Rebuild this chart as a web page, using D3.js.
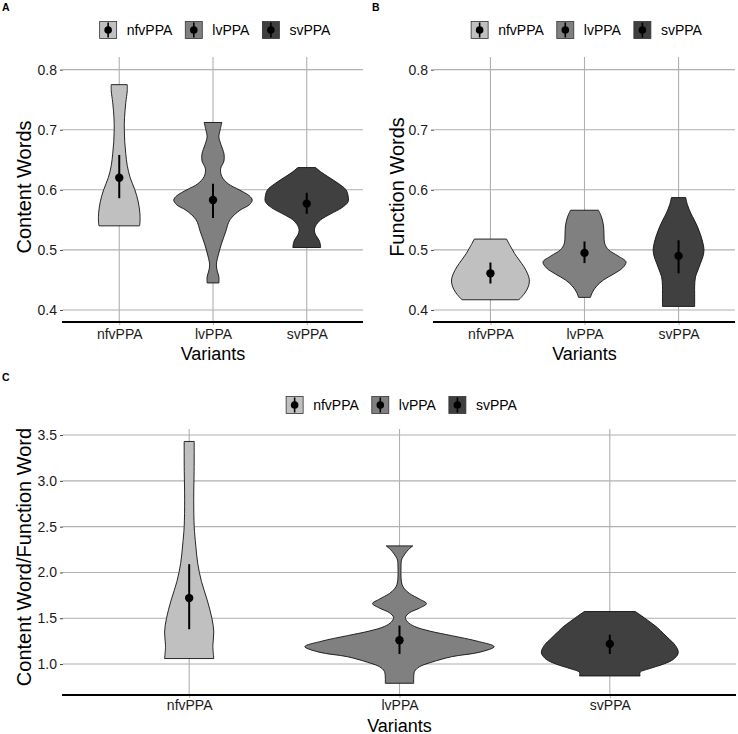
<!DOCTYPE html>
<html><head><meta charset="utf-8">
<script src="https://cdn.jsdelivr.net/npm/d3@7"></script>
<style>body{margin:0;background:#fff} text{font-family:"Liberation Sans",Arial,sans-serif}</style>
</head><body><svg id="c" width="738" height="734"></svg>
<script>
// ---------- data ----------
const categories = ["nfvPPA", "lvPPA", "svPPA"];
const fillColors = ["#c0c0c0", "#808080", "#404040"];

// Panel A: Content Words
const contentTicks = [0.4, 0.5, 0.6, 0.7, 0.8];
const contentNfv = [[0.775,0.19],[0.765,0.19],[0.745,0.155],[0.72,0.125],[0.70,0.12],[0.68,0.13],[0.66,0.155],[0.64,0.19],[0.62,0.26],[0.60,0.37],[0.58,0.45],[0.56,0.49],[0.545,0.49],[0.540,0.48]];
const contentLv = [[0.712,0.21],[0.70,0.17],[0.688,0.14],[0.675,0.19],[0.66,0.26],[0.648,0.26],[0.635,0.18],[0.622,0.21],[0.61,0.36],[0.60,0.62],[0.59,0.86],[0.583,0.93],[0.575,0.86],[0.566,0.64],[0.55,0.40],[0.53,0.30],[0.51,0.20],[0.49,0.12],[0.475,0.08],[0.465,0.10],[0.455,0.14],[0.445,0.14]];
const contentSv = [[0.637,0.21],[0.63,0.33],[0.622,0.5],[0.61,0.76],[0.60,0.93],[0.59,0.98],[0.58,0.98],[0.57,0.83],[0.56,0.57],[0.55,0.33],[0.54,0.21],[0.533,0.18],[0.525,0.21],[0.515,0.30],[0.504,0.33]];
const contentMean = [0.620, 0.583, 0.577];
const contentLow  = [0.586, 0.553, 0.560];
const contentHigh = [0.658, 0.610, 0.595];

// Panel B: Function Words
const functionTicks = [0.4, 0.5, 0.6, 0.7, 0.8];
const functionNfv = [[0.518,0.38],[0.505,0.48],[0.494,0.57],[0.483,0.68],[0.472,0.79],[0.46,0.88],[0.45,0.92],[0.44,0.90],[0.43,0.83],[0.422,0.74],[0.417,0.67]];
const functionLv = [[0.566,0.33],[0.555,0.40],[0.54,0.45],[0.525,0.46],[0.51,0.48],[0.50,0.57],[0.49,0.79],[0.48,0.98],[0.47,0.90],[0.46,0.69],[0.45,0.45],[0.44,0.29],[0.43,0.19],[0.421,0.14]];
const functionSv = [[0.587,0.17],[0.575,0.21],[0.561,0.29],[0.55,0.37],[0.538,0.45],[0.525,0.52],[0.51,0.58],[0.50,0.60],[0.49,0.58],[0.478,0.52],[0.465,0.45],[0.455,0.40],[0.44,0.38],[0.428,0.38],[0.406,0.38]];
const functionMean = [0.461, 0.495, 0.490];
const functionLow  = [0.444, 0.478, 0.461];
const functionHigh = [0.479, 0.514, 0.516];

// Panel C: Content Word / Function Word
const ratioTicks = [1.0, 1.5, 2.0, 2.5, 3.0, 3.5];
const ratioNfv = [[3.43,0.053],[3.3,0.053],[3.1,0.052],[2.8,0.048],[2.5,0.053],[2.3,0.069],[2.1,0.09],[1.9,0.13],[1.7,0.19],[1.5,0.24],[1.35,0.26],[1.2,0.25],[1.06,0.26]];
const ratioLv = [[2.29,0.14],[2.25,0.095],[2.21,0.063],[2.17,0.037],[2.135,0.021],[2.05,0.016],[1.95,0.016],[1.87,0.026],[1.82,0.053],[1.77,0.106],[1.71,0.21],[1.66,0.285],[1.61,0.21],[1.56,0.106],[1.51,0.063],[1.46,0.085],[1.41,0.16],[1.36,0.32],[1.31,0.55],[1.25,0.82],[1.19,1.0],[1.13,0.85],[1.08,0.55],[1.02,0.34],[0.97,0.21],[0.92,0.16],[0.85,0.15],[0.79,0.15]];
const ratioSv = [[1.573,0.27],[1.53,0.33],[1.478,0.40],[1.40,0.50],[1.33,0.57],[1.27,0.63],[1.22,0.68],[1.15,0.72],[1.11,0.72],[1.05,0.67],[1.0,0.57],[0.95,0.42],[0.91,0.32],[0.87,0.32]];
const ratioMean = [1.72, 1.26, 1.22];
const ratioLow  = [1.38, 1.11, 1.11];
const ratioHigh = [2.09, 1.42, 1.32];

// ---------- drawing ----------
const svg = d3.select("#c");
const gridColor = "#b0b0b0";

function drawPanel(p) {
  const g = svg.append("g");
  const x = d3.scalePoint().domain(categories).range([p.x0, p.x1]).padding(0.6);
  const y = d3.scaleLinear().domain(p.domain).range([p.yBase, p.yTop]);
  const maxHalf = 0.45 * x.step();

  // gridlines
  g.selectAll(".hg").data(p.ticks).join("line")
    .attr("x1", p.x0).attr("x2", p.x1)
    .attr("y1", d => y(d)).attr("y2", d => y(d))
    .attr("stroke", gridColor).attr("stroke-width", 1.1);
  g.selectAll(".vg").data(categories).join("line")
    .attr("x1", d => x(d)).attr("x2", d => x(d))
    .attr("y1", p.yTop).attr("y2", p.yBase)
    .attr("stroke", gridColor).attr("stroke-width", 1.1);

  // axes
  const ya = g.append("g").attr("transform", `translate(${p.x0},0)`)
    .call(d3.axisLeft(y).tickValues(p.ticks).tickSize(3).tickPadding(3).tickFormat(d3.format(".1f")));
  ya.select(".domain").remove();
  ya.selectAll("line").attr("stroke", "#444");
  ya.selectAll("text").attr("font-size", 14).attr("fill", "#1a1a1a").attr("font-family", "Liberation Sans, Arial, sans-serif");

  const xa = g.append("g").attr("transform", `translate(0,${p.yBase})`)
    .call(d3.axisBottom(x).tickSize(3).tickPadding(p.xPad));
  xa.select(".domain").remove();
  xa.selectAll("line").attr("stroke", gridColor);
  xa.selectAll("text").attr("font-size", 14).attr("fill", "#1a1a1a").attr("font-family", "Liberation Sans, Arial, sans-serif");

  // baseline
  g.append("line").attr("x1", p.x0 - 1).attr("x2", p.x1).attr("y1", p.yBase).attr("y2", p.yBase)
    .attr("stroke", "#000").attr("stroke-width", 2.2);

  // violins
  const area = d3.area()
    .y(d => y(d[0]))
    .curve(d3.curveCatmullRom.alpha(0.5));
  p.violins.forEach((v, i) => {
    const cx = x(categories[i]);
    area.x0(d => cx - d[1] * maxHalf).x1(d => cx + d[1] * maxHalf);
    g.append("path").attr("d", area(v))
      .attr("fill", fillColors[i]).attr("stroke", "#111").attr("stroke-width", 0.9);
  });

  // mean + interval
  categories.forEach((c, i) => {
    g.append("line").attr("x1", x(c)).attr("x2", x(c))
      .attr("y1", y(p.low[i])).attr("y2", y(p.high[i]))
      .attr("stroke", "#000").attr("stroke-width", 2);
    g.append("circle").attr("cx", x(c)).attr("cy", y(p.mean[i])).attr("r", 4.2).attr("fill", "#000");
  });

  // titles
  g.append("text").attr("transform", `translate(${p.yTitleX},${p.yTitleY}) rotate(-90)`)
    .attr("text-anchor", "middle").attr("font-size", 20).attr("fill", "#000").text(p.yTitle);
  g.append("text").attr("x", (p.x0 + p.x1) / 2).attr("y", p.xTitleY)
    .attr("text-anchor", "middle").attr("font-size", 18).attr("fill", "#000").text("Variants");

  // panel tag
  g.append("text").attr("x", p.tagX).attr("y", p.tagY).attr("font-size", 10.5)
    .attr("font-weight", "bold").attr("fill", "#000").text(p.tag);

  // legend
  const lg = g.append("g");
  const key = 17, gapT = 10, gapI = 13;
  let cur = 0;
  categories.forEach((c, i) => {
    const it = lg.append("g");
    it.append("rect").attr("x", 0).attr("y", -key / 2).attr("width", key).attr("height", key)
      .attr("fill", fillColors[i]).attr("stroke", "#333").attr("stroke-width", 0.8);
    it.append("line").attr("x1", key / 2).attr("x2", key / 2).attr("y1", -key / 2 + 1).attr("y2", key / 2 - 1)
      .attr("stroke", "#000").attr("stroke-width", 1.6);
    it.append("circle").attr("cx", key / 2).attr("cy", 0).attr("r", 3.8).attr("fill", "#000");
    const t = it.append("text").attr("x", key + gapT).attr("y", 0).attr("dy", "0.35em")
      .attr("font-size", 14).attr("fill", "#000").text(c);
    const w = key + gapT + t.node().getComputedTextLength();
    it.attr("transform", `translate(${cur},0)`);
    cur += w + gapI;
  });
  const total = cur - gapI;
  lg.attr("transform", `translate(${(p.x0 + p.x1) / 2 + 2 - total / 2},${p.legendY})`);
}

drawPanel({
  x0: 63, x1: 363, yTop: 57, yBase: 322, domain: [0.38, 0.821], ticks: contentTicks,
  violins: [contentNfv, contentLv, contentSv], mean: contentMean, low: contentLow, high: contentHigh,
  yTitle: "Content Words", yTitleX: 31, yTitleY: 187, xTitleY: 360, xPad: 4,
  tag: "A", tagX: 2, tagY: 11, legendY: 30
});
drawPanel({
  x0: 434, x1: 735, yTop: 57, yBase: 322, domain: [0.38, 0.821], ticks: functionTicks,
  violins: [functionNfv, functionLv, functionSv], mean: functionMean, low: functionLow, high: functionHigh,
  yTitle: "Function Words", yTitleX: 404, yTitleY: 187, xTitleY: 360, xPad: 4,
  tag: "B", tagX: 372, tagY: 11, legendY: 30
});
drawPanel({
  x0: 63, x1: 736, yTop: 429, yBase: 695, domain: [0.662, 3.566], ticks: ratioTicks,
  violins: [ratioNfv, ratioLv, ratioSv], mean: ratioMean, low: ratioLow, high: ratioHigh,
  yTitle: "Content Word/Function Word", yTitleX: 31, yTitleY: 557, xTitleY: 731.5, xPad: 2,
  tag: "C", tagX: 2, tagY: 381, legendY: 405
});
</script></body></html>
